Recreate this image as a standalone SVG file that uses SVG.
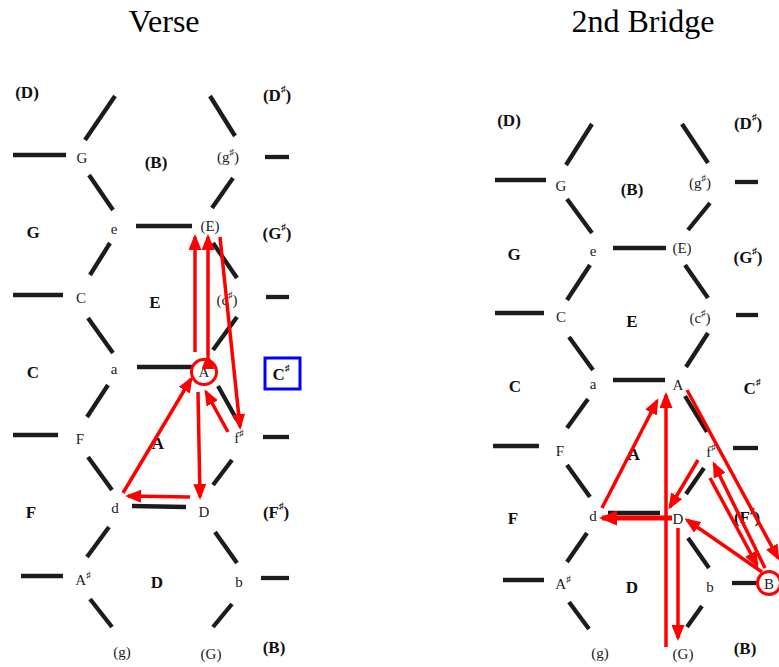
<svg xmlns="http://www.w3.org/2000/svg" width="779" height="667" viewBox="0 0 779 667">
<style>
.bg{fill:#fff}
.title{font-family:"Liberation Serif",serif;font-size:32px;fill:#000;text-anchor:middle}
.n{font-family:"Liberation Serif","DejaVu Serif",serif;font-size:15px;fill:#222;text-anchor:middle;dominant-baseline:central}
.r{font-family:"Liberation Serif","DejaVu Serif",serif;font-size:17px;font-weight:bold;fill:#111;text-anchor:middle;dominant-baseline:central}
.sh{font-size:9px}
.lat line{stroke:#1c1c1c;stroke-width:4.3;stroke-linecap:butt}
.arr line{stroke:#ff0000;stroke-width:3.5;fill:none}
.ring{fill:none;stroke:#ff0000;stroke-width:3}
.box{fill:none;stroke:#0000ff;stroke-width:3}
</style>
<defs>
<marker id="ah" markerUnits="userSpaceOnUse" markerWidth="16" markerHeight="13" refX="13" refY="6.5" orient="auto">
<path d="M0,0 L16,6.5 L0,13 z" fill="#ff0000"/>
</marker>
<marker id="ahb" markerUnits="userSpaceOnUse" markerWidth="18" markerHeight="15" refX="15" refY="7.5" orient="auto">
<path d="M0,0 L18,7.5 L0,15 z" fill="#ff0000"/>
</marker>
</defs>
<rect class="bg" x="0" y="0" width="779" height="667"/>
<text class="title" x="164" y="32">Verse</text>
<text class="title" x="643" y="32">2nd Bridge</text>

<!-- left lattice -->
<g class="lat" id="lattice-left">
<line x1="115" y1="96" x2="85" y2="140"/>
<line x1="210" y1="96" x2="235" y2="136"/>
<line x1="13" y1="155" x2="66" y2="155"/>
<line x1="265" y1="157" x2="289" y2="157"/>
<line x1="89" y1="175" x2="113" y2="210"/>
<line x1="233" y1="178" x2="212" y2="208"/>
<line x1="136" y1="226" x2="192" y2="226"/>
<line x1="110" y1="243" x2="90" y2="275"/>
<line x1="213" y1="243" x2="237" y2="278"/>
<line x1="13" y1="295" x2="63" y2="295"/>
<line x1="266" y1="297" x2="289" y2="297"/>
<line x1="88" y1="318" x2="113" y2="353"/>
<line x1="237" y1="317" x2="213" y2="350"/>
<line x1="137" y1="367" x2="193" y2="367"/>
<line x1="108" y1="385" x2="87" y2="417"/>
<line x1="218" y1="386" x2="237" y2="420"/>
<line x1="13" y1="435" x2="58" y2="435"/>
<line x1="263" y1="437" x2="289" y2="437"/>
<line x1="88" y1="457" x2="112" y2="490"/>
<line x1="232" y1="460" x2="213" y2="485"/>
<line x1="132" y1="506" x2="186" y2="507"/>
<line x1="109" y1="527" x2="87" y2="557"/>
<line x1="215" y1="532" x2="237" y2="563"/>
<line x1="21" y1="576" x2="63" y2="576"/>
<line x1="261" y1="578" x2="289" y2="578"/>
<line x1="90" y1="599" x2="112" y2="627"/>
<line x1="232" y1="604" x2="213" y2="627"/>
</g>

<!-- right lattice -->
<g class="lat" id="lattice-right">
<line x1="592" y1="124" x2="566" y2="165"/>
<line x1="682" y1="124" x2="708" y2="163"/>
<line x1="495" y1="180" x2="546" y2="180"/>
<line x1="735" y1="182" x2="758" y2="182"/>
<line x1="567" y1="199" x2="592" y2="233"/>
<line x1="710" y1="203" x2="688" y2="230"/>
<line x1="613" y1="248" x2="666" y2="248"/>
<line x1="590" y1="265" x2="567" y2="300"/>
<line x1="685" y1="265" x2="708" y2="298"/>
<line x1="495" y1="313" x2="544" y2="313"/>
<line x1="736" y1="315" x2="758" y2="315"/>
<line x1="569" y1="337" x2="593" y2="370"/>
<line x1="708" y1="333" x2="686" y2="367"/>
<line x1="613" y1="380" x2="665" y2="380"/>
<line x1="588" y1="399" x2="567" y2="428"/>
<line x1="685" y1="396" x2="707" y2="432"/>
<line x1="493" y1="446" x2="539" y2="446"/>
<line x1="733" y1="448" x2="758" y2="448"/>
<line x1="567" y1="465" x2="590" y2="497"/>
<line x1="704" y1="468" x2="686" y2="494"/>
<line x1="608" y1="513" x2="660" y2="513"/>
<line x1="587" y1="533" x2="567" y2="562"/>
<line x1="688" y1="538" x2="709" y2="568"/>
<line x1="503" y1="580" x2="544" y2="580"/>
<line x1="732" y1="583" x2="758" y2="583"/>
<line x1="569" y1="602" x2="589" y2="629"/>
<line x1="702" y1="606" x2="687" y2="627"/>
</g>

<!-- left labels -->
<g id="L-Dr"><text class="r" x="27" y="92">(D)</text></g>
<g id="L-Dsr"><text class="r" x="277" y="95">(D<tspan class="sh" dy="-6">♯</tspan><tspan dy="6">)</tspan></text></g>
<g id="L-G"><text class="n" x="82" y="158">G</text></g>
<g id="L-Br"><text class="r" x="156" y="162">(B)</text></g>
<g id="L-gs"><text class="n" x="228" y="157">(g<tspan class="sh" dy="-5">♯</tspan><tspan dy="5">)</tspan></text></g>
<g id="L-Gr"><text class="r" x="33" y="232">G</text></g>
<g id="L-e"><text class="n" x="114" y="229">e</text></g>
<g id="L-E"><text class="n" x="210" y="226">(E)</text></g>
<g id="L-Gsr"><text class="r" x="277" y="233">(G<tspan class="sh" dy="-6">♯</tspan><tspan dy="6">)</tspan></text></g>
<g id="L-C"><text class="n" x="81" y="298">C</text></g>
<g id="L-Er"><text class="r" x="155" y="302">E</text></g>
<g id="L-cs"><text class="n" x="227" y="300">(c<tspan class="sh" dy="-5">♯</tspan><tspan dy="5">)</tspan></text></g>
<g id="L-Cr"><text class="r" x="33" y="372">C</text></g>
<g id="L-a"><text class="n" x="114" y="369">a</text></g>
<g id="L-A"><text class="n" x="204" y="372">A</text><circle class="ring" cx="204" cy="372" r="12.5"/></g>
<g id="L-Csr"><rect class="box" x="265" y="358" width="35" height="31"/><text class="r" x="281" y="374">C<tspan class="sh" dy="-6">♯</tspan></text></g>
<g id="L-F"><text class="n" x="80" y="439">F</text></g>
<g id="L-Ar"><text class="r" x="158" y="443">A</text></g>
<g id="L-fs"><text class="n" x="239" y="438">f<tspan class="sh" dy="-5">♯</tspan></text></g>
<g id="L-Fr"><text class="r" x="31" y="512">F</text></g>
<g id="L-d"><text class="n" x="115" y="508">d</text></g>
<g id="L-D"><text class="n" x="204" y="512">D</text></g>
<g id="L-Fsr"><text class="r" x="276" y="512">(F<tspan class="sh" dy="-6">♯</tspan><tspan dy="6">)</tspan></text></g>
<g id="L-As"><text class="n" x="83" y="580">A<tspan class="sh" dy="-5">♯</tspan></text></g>
<g id="L-Dr2"><text class="r" x="157" y="582">D</text></g>
<g id="L-b"><text class="n" x="239" y="582">b</text></g>
<g id="L-g"><text class="n" x="122" y="652">(g)</text></g>
<g id="L-Gp"><text class="n" x="211" y="654">(G)</text></g>
<g id="L-Br2"><text class="r" x="274" y="647">(B)</text></g>

<!-- right labels -->
<g id="R-Dr"><text class="r" x="509" y="120">(D)</text></g>
<g id="R-Dsr"><text class="r" x="748" y="123">(D<tspan class="sh" dy="-6">♯</tspan><tspan dy="6">)</tspan></text></g>
<g id="R-G"><text class="n" x="561" y="186">G</text></g>
<g id="R-Br"><text class="r" x="632" y="189">(B)</text></g>
<g id="R-gs"><text class="n" x="700" y="183">(g<tspan class="sh" dy="-5">♯</tspan><tspan dy="5">)</tspan></text></g>
<g id="R-Gr"><text class="r" x="514" y="254">G</text></g>
<g id="R-e"><text class="n" x="593" y="251">e</text></g>
<g id="R-E"><text class="n" x="682" y="248">(E)</text></g>
<g id="R-Gsr"><text class="r" x="748" y="257">(G<tspan class="sh" dy="-6">♯</tspan><tspan dy="6">)</tspan></text></g>
<g id="R-C"><text class="n" x="561" y="317">C</text></g>
<g id="R-Er"><text class="r" x="632" y="321">E</text></g>
<g id="R-cs"><text class="n" x="700" y="318">(c<tspan class="sh" dy="-5">♯</tspan><tspan dy="5">)</tspan></text></g>
<g id="R-Cr"><text class="r" x="515" y="386">C</text></g>
<g id="R-a"><text class="n" x="593" y="384">a</text></g>
<g id="R-A"><text class="n" x="678" y="385">A</text></g>
<g id="R-Csr"><text class="r" x="752" y="388">C<tspan class="sh" dy="-6">♯</tspan></text></g>
<g id="R-F"><text class="n" x="560" y="451">F</text></g>
<g id="R-Ar"><text class="r" x="634" y="454">A</text></g>
<g id="R-fs"><text class="n" x="711" y="452">f<tspan class="sh" dy="-5">♯</tspan></text></g>
<g id="R-Fr"><text class="r" x="513" y="518">F</text></g>
<g id="R-d"><text class="n" x="593" y="516">d</text></g>
<g id="R-D"><text class="n" x="678" y="519">D</text></g>
<g id="R-Fsr"><text class="r" x="747" y="517">(F<tspan class="sh" dy="-6">♯</tspan><tspan dy="6">)</tspan></text></g>
<g id="R-As"><text class="n" x="563" y="584">A<tspan class="sh" dy="-5">♯</tspan></text></g>
<g id="R-Dr2"><text class="r" x="632" y="587">D</text></g>
<g id="R-b"><text class="n" x="710" y="587">b</text></g>
<g id="R-B"><text class="n" x="769" y="584">B</text><circle class="ring" cx="769" cy="583" r="11.5"/></g>
<g id="R-g"><text class="n" x="600" y="653">(g)</text></g>
<g id="R-Gp"><text class="n" x="683" y="654">(G)</text></g>
<g id="R-Br2"><text class="r" x="745" y="648">(B)</text></g>

<!-- connectors -->
<g class="arr" id="connectors">
<line x1="195" y1="352" x2="195" y2="237" marker-end="url(#ah)"/>
<line x1="208" y1="356" x2="208" y2="237" marker-start="url(#ah)" marker-end="url(#ah)" style="marker-start:url(#ah)"/>
<line x1="220" y1="237" x2="240" y2="427" marker-end="url(#ah)"/>
<line x1="228" y1="432" x2="206" y2="392" marker-end="url(#ah)"/>
<line x1="123" y1="493" x2="191" y2="379" marker-end="url(#ah)"/>
<line x1="198" y1="392" x2="200" y2="497" marker-end="url(#ah)"/>
<line x1="190" y1="497" x2="128" y2="496" marker-end="url(#ah)"/>

<line x1="602" y1="508" x2="657" y2="401" marker-end="url(#ah)"/>
<line x1="666" y1="647" x2="666" y2="395" marker-end="url(#ah)"/>
<line x1="687" y1="390" x2="778" y2="558" marker-end="url(#ah)"/>
<line x1="698" y1="460" x2="670" y2="507" marker-end="url(#ah)"/>
<line x1="765" y1="568" x2="714" y2="464" marker-end="url(#ah)"/>
<line x1="710" y1="478" x2="757" y2="565" marker-end="url(#ah)"/>
<line x1="762" y1="572" x2="687" y2="520" marker-end="url(#ah)"/>
<line x1="672" y1="518" x2="602" y2="518" style="stroke-width:5" marker-end="url(#ahb)"/>
<line x1="678" y1="528" x2="678" y2="638" marker-end="url(#ah)"/>
</g>
</svg>
